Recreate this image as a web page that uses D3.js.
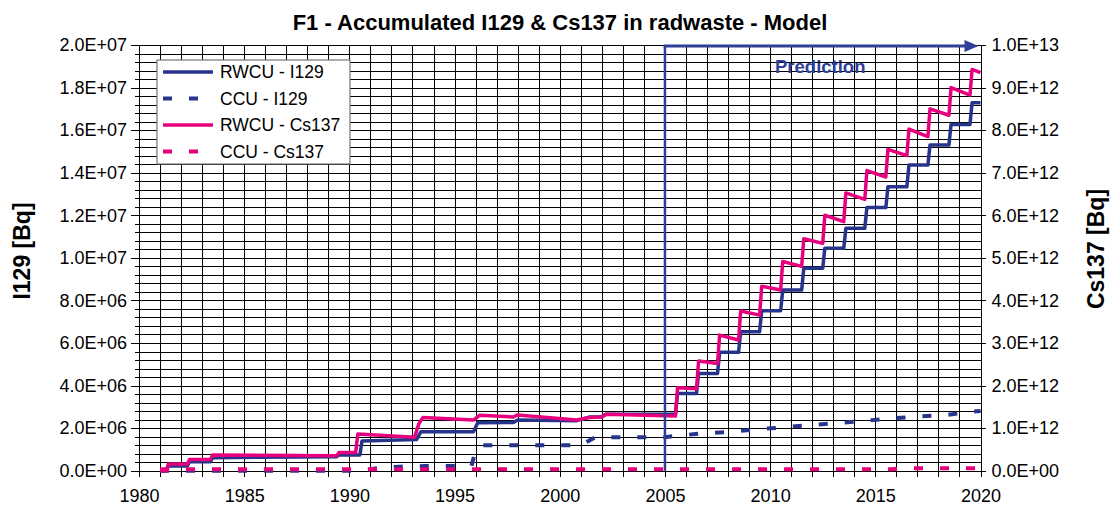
<!DOCTYPE html>
<html>
<head>
<meta charset="utf-8">
<script src="https://cdn.jsdelivr.net/npm/d3@7"></script>
<style>
  body { margin: 0; background: #fff; }
  svg { display: block; font-family: "Liberation Sans", Arial, sans-serif; }
  .grid line { stroke: #000; stroke-width: 1; shape-rendering: crispEdges; }
  .grid path { display: none; }
  .axis path, .axis line { stroke: #000; stroke-width: 1; shape-rendering: crispEdges; }
  .axis text { font-size: 18px; fill: #000; }
</style>
</head>
<body>
<svg id="chart" width="1115" height="511"></svg>
<script>
// Data: [year, Bq]
var rwcuI129 = [[1981.0,0],[1981.3,0],[1981.4,0.22e6],[1982.3,0.22e6],[1982.4,0.42e6],[1983.4,0.42e6],[1983.5,0.61e6],
  [1989.4,0.66e6],[1989.5,0.74e6],[1990.5,0.74e6],[1990.6,1.40e6],[1993.2,1.47e6],[1993.4,1.83e6],[1995.9,1.83e6],
  [1996.1,2.25e6],[1997.8,2.27e6],[1998.0,2.38e6],[2000.8,2.35e6],[2001.4,2.52e6],[2002.0,2.54e6],[2002.2,2.65e6],
  [2005.5,2.65e6],[2005.6,3.63e6],[2006.5,3.63e6],[2006.6,4.57e6],[2007.5,4.57e6],[2007.6,5.56e6],[2008.5,5.56e6],
  [2008.6,6.53e6],[2009.5,6.53e6],[2009.6,7.52e6],[2010.5,7.52e6],[2010.6,8.49e6],[2011.5,8.49e6],[2011.6,9.51e6],
  [2012.5,9.51e6],[2012.6,10.45e6],[2013.5,10.45e6],[2013.6,11.39e6],[2014.5,11.39e6],[2014.6,12.36e6],[2015.5,12.36e6],
  [2015.6,13.34e6],[2016.5,13.34e6],[2016.6,14.36e6],[2017.5,14.36e6],[2017.6,15.30e6],[2018.5,15.30e6],
  [2018.6,16.27e6],[2019.5,16.27e6],[2019.6,17.29e6],[2020.0,17.29e6]];

var ccuI129 = [[1981.0,0],[1990.6,0],[1991.3,0.12e6],[1992.4,0.19e6],[1993.6,0.22e6],[1995.8,0.22e6],[1996.0,0.95e6],
  [1996.2,1.2e6],[2001.0,1.2e6],[2001.7,1.57e6],[2005.0,1.57e6],[2005.5,1.64e6],[2006.8,1.75e6],[2008.0,1.82e6],
  [2009.3,1.94e6],[2010.7,2.04e6],[2012.0,2.15e6],[2013.0,2.22e6],[2014.5,2.35e6],[2015.8,2.46e6],[2017.0,2.54e6],
  [2018.3,2.61e6],[2019.6,2.77e6],[2020.0,2.80e6]];

var rwcuCs137 = [[1981.0,0],[1981.3,0],[1981.4,0.16e12],[1982.3,0.16e12],[1982.4,0.265e12],[1983.4,0.265e12],[1983.5,0.37e12],
  [1989.4,0.35e12],[1989.5,0.425e12],[1990.3,0.425e12],[1990.4,0.86e12],[1993.1,0.785e12],[1993.3,1.10e12],[1993.5,1.25e12],
  [1995.9,1.19e12],[1996.2,1.305e12],[1997.8,1.26e12],[1998.0,1.31e12],[2000.8,1.19e12],[2001.4,1.25e12],[2002.0,1.26e12],
  [2002.2,1.325e12],[2005.5,1.285e12],[2005.6,1.95e12],[2006.5,1.925e12],[2006.6,2.575e12],[2007.5,2.52e12],
  [2007.6,3.185e12],[2008.5,3.07e12],[2008.6,3.75e12],[2009.5,3.655e12],[2009.6,4.335e12],[2010.5,4.245e12],
  [2010.6,4.915e12],[2011.5,4.80e12],[2011.6,5.45e12],[2012.5,5.34e12],[2012.6,6.00e12],[2013.5,5.85e12],
  [2013.6,6.525e12],[2014.5,6.375e12],[2014.6,7.05e12],[2015.5,6.90e12],[2015.6,7.55e12],[2016.5,7.40e12],
  [2016.6,8.025e12],[2017.5,7.85e12],[2017.6,8.50e12],[2018.5,8.35e12],[2018.6,9.00e12],[2019.5,8.825e12],
  [2019.6,9.425e12],[2020.0,9.35e12]];

var ccuCs137 = [[1981.0,0.035e12],[2015.8,0.035e12],[2016.2,0.055e12],[2020.0,0.055e12]];

var yearTicks = d3.range(1980, 2021, 5);
var i129Ticks = [0, 2e6, 4e6, 6e6, 8e6, 10e6, 12e6, 14e6, 16e6, 18e6, 20e6];
var cs137Ticks = [0, 1e12, 2e12, 3e12, 4e12, 5e12, 6e12, 7e12, 8e12, 9e12, 10e12];

var legendItems = ["RWCU - I129", "CCU - I129", "RWCU - Cs137", "CCU - Cs137"];

// Colors
var blue = "#27348b";
var pink = "#e6007e";
var arrowBlue = "#2e3f9a";

var svg = d3.select("#chart");
var margin = { left: 139, right: 980.5, top: 45, bottom: 470.7 };

var x = d3.scaleLinear().domain([1980, 2020]).range([margin.left, margin.right]);
var yL = d3.scaleLinear().domain([0, 2e7]).range([margin.bottom, margin.top]);
var yR = d3.scaleLinear().domain([0, 1e13]).range([margin.bottom, margin.top]);

function sci(d) {
  var parts = d.toExponential(1).toUpperCase().split("E");
  var e = parseInt(parts[1]);
  return parts[0] + "E" + (e < 0 ? "-" : "+") + (Math.abs(e) < 10 ? "0" : "") + Math.abs(e);
}

// Grid
var yearsAll = d3.range(1980, 2021);
var minorY = d3.range(0, 51).map(function(i) { return i * 4e5; });
svg.append("g").attr("class", "grid")
   .attr("transform", "translate(0," + margin.bottom + ")")
   .call(d3.axisBottom(x).tickValues(yearsAll).tickSize(-(margin.bottom - margin.top)).tickFormat(""));
svg.append("g").attr("class", "grid")
   .attr("transform", "translate(" + margin.left + ",0)")
   .call(d3.axisLeft(yL).tickValues(minorY).tickSize(-(margin.right - margin.left)).tickFormat(""));

// Axes
svg.append("g").attr("class", "axis")
   .attr("transform", "translate(0," + margin.bottom + ")")
   .call(d3.axisBottom(x).tickValues(yearsAll).tickSize(6).tickSizeOuter(0).tickPadding(13)
     .tickFormat(function(d) { return d % 5 === 0 ? d : ""; }));
svg.append("g").attr("class", "axis")
   .attr("transform", "translate(" + margin.left + ",0)")
   .call(d3.axisLeft(yL).tickValues(minorY).tickSize(4).tickSizeOuter(0).tickFormat(""));
svg.append("g").attr("class", "axis")
   .attr("transform", "translate(" + margin.left + ",0)")
   .call(d3.axisLeft(yL).tickValues(i129Ticks).tickSize(8).tickSizeOuter(0).tickPadding(4).tickFormat(sci));
svg.append("g").attr("class", "axis")
   .attr("transform", "translate(" + margin.right + ",0)")
   .call(d3.axisRight(yR).tickValues(cs137Ticks).tickSize(5).tickSizeOuter(0).tickPadding(6).tickFormat(sci));

// Lines
var lineL = d3.line().x(function(d) { return x(d[0]); }).y(function(d) { return yL(d[1]); });
var lineR = d3.line().x(function(d) { return x(d[0]); }).y(function(d) { return yR(d[1]); });

svg.append("path").datum(rwcuI129).attr("d", lineL)
   .attr("fill", "none").attr("stroke", blue).attr("stroke-width", 3.5).attr("stroke-linejoin", "round");
svg.append("path").datum(ccuI129).attr("d", lineL)
   .attr("fill", "none").attr("stroke", blue).attr("stroke-width", 4).attr("stroke-dasharray", "9 17");
svg.append("path").datum(rwcuCs137).attr("d", lineR)
   .attr("fill", "none").attr("stroke", pink).attr("stroke-width", 3.5).attr("stroke-linejoin", "round");
svg.append("path").datum(ccuCs137).attr("d", lineR)
   .attr("fill", "none").attr("stroke", pink).attr("stroke-width", 4).attr("stroke-dasharray", "9 17");

// Prediction marker
var xPred = x(2005);
svg.append("line")
   .attr("x1", xPred).attr("x2", xPred).attr("y1", margin.bottom).attr("y2", margin.top + 1)
   .attr("stroke", arrowBlue).attr("stroke-width", 2.5);
svg.append("line")
   .attr("x1", xPred - 1.25).attr("x2", margin.right - 14).attr("y1", margin.top + 1).attr("y2", margin.top + 1)
   .attr("stroke", arrowBlue).attr("stroke-width", 3);
svg.append("path")
   .attr("d", "M" + (margin.right - 16) + "," + (margin.top + 1 - 6) + "L" + (margin.right - 2) + "," + (margin.top + 1) +
              "L" + (margin.right - 16) + "," + (margin.top + 1 + 6) + "Z")
   .attr("fill", arrowBlue);
svg.append("text")
   .text("Prediction")
   .attr("x", 775).attr("y", 73)
   .style("font-size", "18.5px").style("font-weight", "bold").style("fill", arrowBlue);

// Legend
var legend = svg.append("g").attr("transform", "translate(157,60)");
legend.append("rect").attr("width", 193).attr("height", 104)
      .attr("fill", "#fff").attr("stroke", "#777").attr("stroke-width", 1.2);
var legendRows = legend.selectAll(".legendRow").data(legendItems).enter()
      .append("g").attr("class", "legendRow")
      .attr("transform", function(d, i) { return "translate(0," + (12 + i * 26.5) + ")"; });
legendRows.append("line")
      .attr("x1", 6).attr("x2", 56).attr("y1", 0).attr("y2", 0)
      .attr("stroke", function(d, i) { return i < 2 ? blue : pink; })
      .attr("stroke-width", function(d, i) { return i % 2 ? 4 : 3.5; })
      .attr("stroke-dasharray", function(d, i) { return i % 2 ? "9 17" : null; });
legendRows.append("text")
      .text(function(d) { return d; })
      .attr("x", 63).attr("y", 0).attr("dy", "0.36em")
      .style("font-size", "17.5px");

// Titles
svg.append("text")
   .text("F1 - Accumulated I129 & Cs137 in radwaste - Model")
   .attr("x", 560).attr("y", 30).attr("text-anchor", "middle")
   .style("font-size", "22px").style("font-weight", "bold");
svg.append("text")
   .text("I129 [Bq]")
   .attr("transform", "translate(30,251) rotate(-90)").attr("text-anchor", "middle")
   .style("font-size", "23px").style("font-weight", "bold");
svg.append("text")
   .text("Cs137 [Bq]")
   .attr("transform", "translate(1104,249) rotate(-90)").attr("text-anchor", "middle")
   .style("font-size", "23px").style("font-weight", "bold");
</script>
</body>
</html>
